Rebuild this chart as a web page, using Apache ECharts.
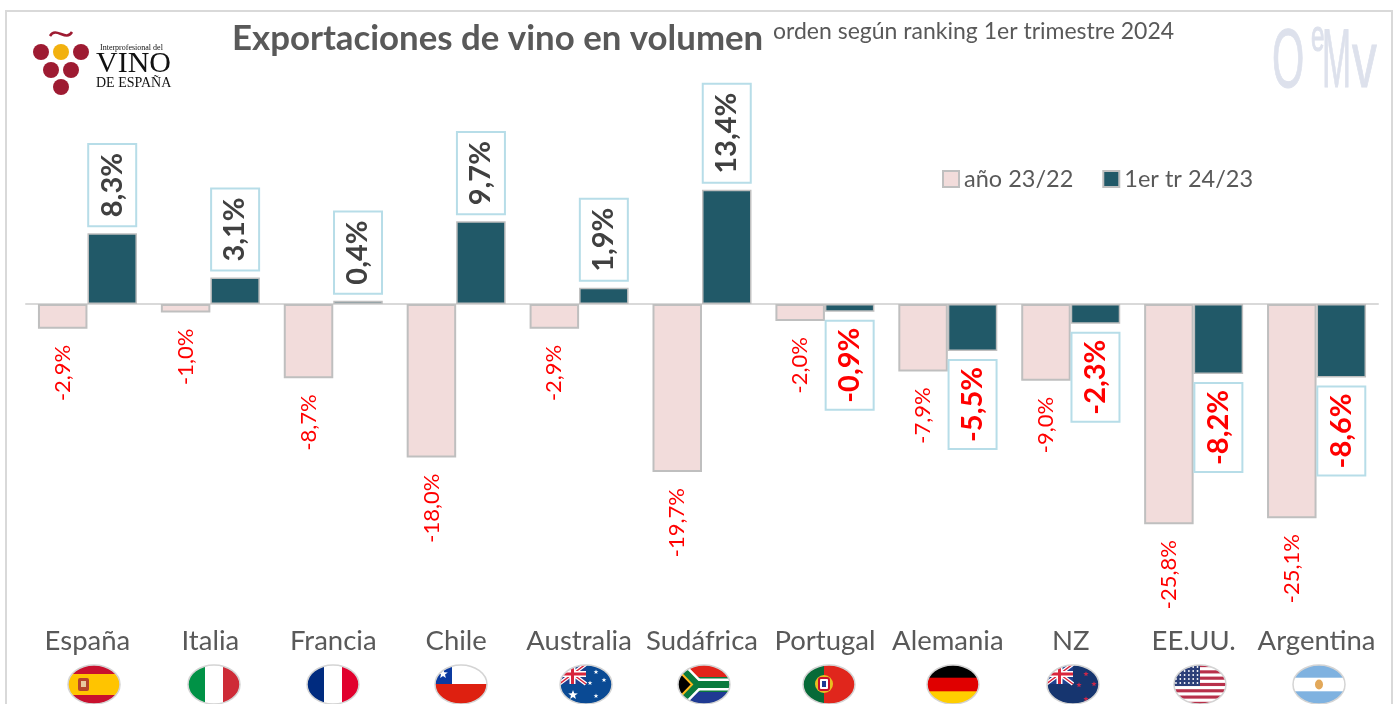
<!DOCTYPE html>
<html lang="es" style="height: 100%">
<head>
    <meta charset="UTF-8">
    <title>Exportaciones de vino en volumen</title>
    <script src="https://cdn.jsdelivr.net/npm/echarts@6/dist/echarts.min.js"></script>
</head>
<body style="height: 100%; margin: 0; background: #fff">
<div id="main" style="width: 1396px; height: 704px"></div>
<script>
    var paises = ['España', 'Italia', 'Francia', 'Chile', 'Australia', 'Sudáfrica', 'Portugal', 'Alemania', 'NZ', 'EE.UU.', 'Argentina'];
    var anio2322 = [-2.9, -1.0, -8.7, -18.0, -2.9, -19.7, -2.0, -7.9, -9.0, -25.8, -25.1];
    var tr2423 = [8.3, 3.1, 0.4, 9.7, 1.9, 13.4, -0.9, -5.5, -2.3, -8.2, -8.6];

    var fuente = 'Lato';
    var gris = '#595959';
    var vino = '#9e1b32';

    function pct(v) {
        return v.toFixed(1).replace('.', ',') + '%';
    }

    // banderas, dibujadas en un caja de 54x41 y recortadas en elipse
    var ukJack = '<rect width="27" height="20" fill="#1f3f8f"/>'
        + '<path d="M0 0L27 20M27 0L0 20" stroke="#fff" stroke-width="4"/>'
        + '<path d="M0 0L27 20M27 0L0 20" stroke="#d8263c" stroke-width="1.4"/>'
        + '<path d="M13.5 0V20M0 10H27" stroke="#fff" stroke-width="6"/>'
        + '<path d="M13.5 0V20M0 10H27" stroke="#d8263c" stroke-width="3"/>';
    function estrella(x, y, r, color) {
        var p = [];
        for (var i = 0; i < 10; i++) {
            var a = -Math.PI / 2 + i * Math.PI / 5, q = i % 2 ? r * 0.42 : r;
            p.push((x + q * Math.cos(a)).toFixed(1) + ',' + (y + q * Math.sin(a)).toFixed(1));
        }
        return '<polygon points="' + p.join(' ') + '" fill="' + color + '"/>';
    }
    function rayasUsa() {
        var s = '<rect width="54" height="41" fill="#fff"/>';
        for (var i = 0; i < 7; i++) {
            s += '<rect y="' + (i * 6.3) + '" width="54" height="3.15" fill="#b8304a"/>';
        }
        s += '<rect width="27" height="22" fill="#2c3f78"/>';
        for (var r = 0; r < 5; r++) {
            for (var c = 0; c < 6; c++) {
                s += '<circle cx="' + (3 + c * 4.3) + '" cy="' + (3 + r * 4) + '" r="0.9" fill="#fff"/>';
            }
        }
        return s;
    }
    var banderas = [
        '<rect width="54" height="41" fill="#c8102e"/><rect y="10" width="54" height="21" fill="#ffc400"/><rect x="11" y="14" width="11" height="13" rx="2" fill="#b5442c"/><rect x="14" y="17" width="5" height="6" fill="#e8c9a0"/>',
        '<rect width="54" height="41" fill="#fff"/><rect width="18" height="41" fill="#009246"/><rect x="36" width="18" height="41" fill="#ce2b37"/>',
        '<rect width="54" height="41" fill="#fff"/><rect width="18" height="41" fill="#002b7f"/><rect x="36" width="18" height="41" fill="#e1002d"/>',
        '<rect width="54" height="41" fill="#fff"/><rect y="20" width="54" height="21" fill="#de2010"/><rect width="18" height="20" fill="#0b3aa0"/>' + estrella(9, 10, 5, '#fff'),
        '<rect width="54" height="41" fill="#0a4a94"/>' + ukJack + estrella(14, 31, 5, '#fff') + estrella(37, 8, 2.5, '#fff') + estrella(37, 32, 2.5, '#fff') + estrella(31, 19, 2.5, '#fff') + estrella(45, 16, 2.5, '#fff'),
        '<rect width="54" height="41" fill="#0a7a3d"/><rect width="54" height="13" fill="#e2231a"/><rect y="28" width="54" height="13" fill="#1f3a93"/><path d="M0 0L20 20.5L0 41" fill="none" stroke="#fff" stroke-width="12"/><path d="M20 20.5H54" stroke="#fff" stroke-width="12"/><path d="M0 0L20 20.5L0 41" fill="none" stroke="#0a7a3d" stroke-width="7"/><path d="M20 20.5H54" stroke="#0a7a3d" stroke-width="7"/><path d="M0 5L15 20.5L0 36Z" fill="#000" stroke="#ffb81c" stroke-width="2"/>',
        '<rect width="54" height="41" fill="#e0261c"/><rect width="22" height="41" fill="#066a38"/><circle cx="22" cy="20" r="9" fill="#e8c020"/><rect x="17" y="14" width="10" height="12" rx="2" fill="#fff" stroke="#c8102e" stroke-width="2"/><rect x="20" y="17" width="4" height="6" fill="#1f3a93"/>',
        '<rect width="54" height="41" fill="#e00000"/><rect width="54" height="13.7" fill="#000"/><rect y="27.3" width="54" height="13.7" fill="#ffce00"/>',
        '<rect width="54" height="41" fill="#16356f"/>' + ukJack + estrella(40, 10, 2.8, '#c8284a') + estrella(33, 21, 2.8, '#c8284a') + estrella(48, 20, 2.8, '#c8284a') + estrella(40, 35, 2.8, '#c8284a'),
        rayasUsa(),
        '<rect width="54" height="41" fill="#fff"/><rect width="54" height="13.7" fill="#7fb2e0"/><rect y="27.3" width="54" height="13.7" fill="#7fb2e0"/><ellipse cx="27" cy="20.5" rx="4" ry="5" fill="#e2a85a"/>'
    ];
    var flagX = [67, 187, 306, 434, 559, 677, 802, 926, 1046, 1173, 1292];

    function flagUri(svg) {
        var s = '<svg xmlns="http://www.w3.org/2000/svg" width="54" height="41" viewBox="0 0 54 41">'
            + '<defs><clipPath id="c"><ellipse cx="27" cy="20.5" rx="26" ry="19.5"/></clipPath></defs>'
            + '<g clip-path="url(#c)">' + svg + '</g>'
            + '<ellipse cx="27" cy="20.5" rx="26" ry="19.5" fill="none" stroke="#d4d4d4" stroke-width="1.5"/></svg>';
        return 'data:image/svg+xml;charset=utf-8,' + encodeURIComponent(s);
    }

    function serifText(text, x, y, size, weight) {
        return {
            type: 'text', silent: true, x: x, y: y,
            style: { text: text, font: weight + ' ' + size + 'px "Liberation Serif"', fill: '#111', textVerticalAlign: 'middle' }
        };
    }
    function uvas(x, y, color) {
        return { type: 'circle', silent: true, shape: { cx: x, cy: y, r: 8 }, style: { fill: color } };
    }
    function oemv(text, x, y, size, sx) {
        return {
            type: 'text', silent: true, x: x, y: y, scaleX: sx,
            style: { text: text, font: size + 'px "Liberation Sans"', fill: '#dde1ec', stroke: '#dde1ec', lineWidth: 1, textVerticalAlign: 'middle' }
        };
    }

    var graficos = [
        { type: 'rect', silent: true, shape: { x: 6, y: 11, width: 1386, height: 700 }, style: { fill: 'none', stroke: '#d9d9d9', lineWidth: 2 } },
        uvas(41, 52, vino), uvas(61, 52, '#f2b10f'), uvas(81, 52, vino), uvas(51, 70, vino), uvas(71, 70, vino), uvas(61, 87, vino),
        { type: 'bezierCurve', silent: true, shape: { x1: 50, y1: 36, cpx1: 56, cpy1: 26, cpx2: 66, cpy2: 42, x2: 72, y2: 32 }, style: { fill: 'none', stroke: vino, lineWidth: 2.5 } },
        serifText('Interprofesional del', 100, 48, 8, 'normal'),
        serifText('VINO', 96, 64, 30, 'normal'),
        serifText('DE ESPAÑA', 96, 83, 14, 'normal'),
        oemv('O', 1272, 64, 83, 0.5),
        oemv('e', 1311, 39, 44, 0.55),
        oemv('M', 1322, 64, 83, 0.42),
        oemv('v', 1352, 65, 80, 0.62)
    ];
    flagX.forEach(function (x, i) {
        graficos.push({
            type: 'image', silent: true,
            style: { image: flagUri(banderas[i]), x: x, y: 664, width: 54, height: 41 }
        });
    });

    var etiquetasAnio = anio2322.map(function (v) {
        return {
            value: v,
            label: {
                show: true, position: 'bottom', distance: 19, rotate: 90, offset: [3, 0],
                align: 'right', verticalAlign: 'middle',
                formatter: pct(v), color: '#ff0000', fontSize: 22, fontFamily: fuente
            }
        };
    });
    var etiquetasTr = tr2423.map(function (v) {
        return {
            value: v,
            label: {
                show: true, position: v >= 0 ? 'top' : 'bottom', distance: v >= 0 ? 8 : 10, rotate: 90,
                align: v >= 0 ? 'left' : 'right', verticalAlign: 'middle',
                formatter: pct(v), color: v >= 0 ? '#404040' : '#ff0000',
                fontSize: 29, fontWeight: 'bold', fontFamily: fuente, lineHeight: 30,
                backgroundColor: '#fff', borderColor: '#b7dde8', borderWidth: 2,
                padding: v >= 0 ? [8, 8, 8, 8] : [8, 6, 8, 6]
            }
        };
    });

    var myChart = echarts.init(document.getElementById('main'));
    myChart.setOption({
        animation: false,
        backgroundColor: '#fff',
        title: [
            { text: 'Exportaciones de vino en volumen', left: 232, top: 21, padding: 0, textStyle: { color: gris, fontFamily: fuente, fontWeight: 'bold', fontSize: 34.8 } },
            { text: 'orden según ranking 1er trimestre 2024', left: 773, top: 20, padding: 0, textStyle: { color: gris, fontFamily: fuente, fontWeight: 'normal', fontSize: 23 } }
        ],
        legend: {
            left: 942, top: 167, padding: 0, itemWidth: 16, itemHeight: 16, itemGap: 29,
            icon: 'rect',
            textStyle: { color: gris, fontFamily: fuente, fontSize: 23.5, padding: [0, 0, 0, 0] },
            data: ['año 23/22', '1er tr 24/23']
        },
        grid: { left: 26, right: 18, top: 133.4, bottom: 144 },
        xAxis: [
            {
                type: 'category', data: paises,
                axisLine: { onZero: true, lineStyle: { color: '#d9d9d9', width: 2 } },
                axisTick: { show: false }, axisLabel: { show: false }
            },
            {
                type: 'category', data: paises, position: 'bottom',
                axisLine: { show: false }, axisTick: { show: false },
                axisLabel: { interval: 0, margin: 67, color: gris, fontFamily: fuente, fontSize: 27.5 }
            }
        ],
        yAxis: { type: 'value', min: -30, max: 20, show: false, splitLine: { show: false } },
        series: [
            {
                name: 'año 23/22', type: 'bar', data: etiquetasAnio, barWidth: 49.5, barGap: 0,
                itemStyle: { color: '#f2dcdb', borderColor: '#bfbfbf', borderWidth: 2 }
            },
            {
                name: '1er tr 24/23', type: 'bar', data: etiquetasTr, barWidth: 49.5,
                itemStyle: { color: '#215968', borderColor: '#bfbfbf', borderWidth: 1.5 }
            }
        ],
        graphic: graficos
    });
</script>
</body>
</html>
